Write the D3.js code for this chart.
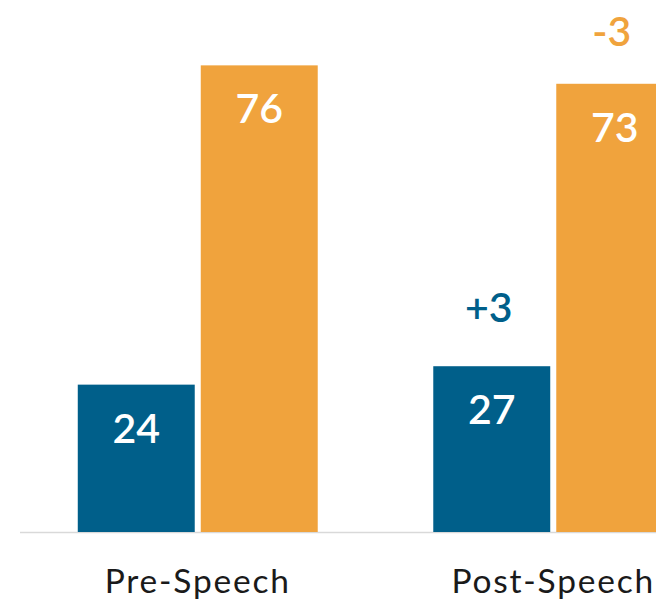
<!DOCTYPE html>
<html>
<head>
<meta charset="utf-8">
<style>
    body { margin: 0; background: #fff; }
    svg { font-family: Lato, "Noto Sans", sans-serif; }
</style>
</head>
<body>
<svg width="656" height="602"></svg>
<script src="https://d3js.org/d3.v7.min.js"></script>
<script>
    // data
    var groups = ["Pre-Speech", "Post-Speech"];
    var series = ["Favor", "Oppose"];
    var favorValues = [24, 27];
    var opposeValues = [76, 73];
    var favorChange = ["", "+3"];
    var opposeChange = ["", "-3"];
    var colors = ["#005f8a", "#f0a33d"];

    var svg = d3.select("svg"),
        baseY = 532;

    var rows = groups.map(function(g, i) {
        return {
            group: g,
            bars: [
                { key: series[0], value: favorValues[i], change: favorChange[i] },
                { key: series[1], value: opposeValues[i], change: opposeChange[i] }
            ]
        };
    });

    var x0 = d3.scaleBand()
        .domain(groups)
        .range([20, 731])
        .paddingInner(0.325)
        .paddingOuter(0.1625);

    var x1 = d3.scaleBand()
        .domain(series)
        .range([0, x0.bandwidth()])
        .paddingInner(0.049);

    var y = d3.scaleLinear()
        .domain([0, 80])
        .range([baseY, baseY - 80 * 6.14]);

    var color = d3.scaleOrdinal().domain(series).range(colors);

    // baseline
    svg.append("line")
        .attr("x1", 20).attr("x2", 656)
        .attr("y1", baseY + 0.5).attr("y2", baseY + 0.5)
        .attr("stroke", "#d9d9d9")
        .attr("stroke-width", 1.5);

    var g = svg.selectAll("g.group")
        .data(rows)
        .enter().append("g")
        .attr("class", "group")
        .attr("transform", function(d) { return "translate(" + x0(d.group) + ",0)"; });

    var bar = g.selectAll("g.bar")
        .data(function(d) { return d.bars; })
        .enter().append("g")
        .attr("class", "bar");

    bar.append("rect")
        .attr("x", function(d) { return x1(d.key); })
        .attr("width", x1.bandwidth())
        .attr("y", function(d) { return y(d.value); })
        .attr("height", function(d) { return y(0) - y(d.value); })
        .attr("fill", function(d) { return color(d.key); });

    bar.append("text")
        .attr("x", function(d) { return x1(d.key) + x1.bandwidth() / 2; })
        .attr("y", function(d) { return y(d.value) + 58; })
        .attr("text-anchor", "middle")
        .attr("fill", "#fff")
        .style("font-size", "41px")
        .style("font-weight", 600)
        .text(function(d) { return d.value; });

    // change labels sit a little closer to the orange bar
    bar.append("text")
        .attr("x", function(d) { return x1(d.key) + x1.bandwidth() / 2 - 3; })
        .attr("y", function(d) { return y(d.value) - (d.key === series[0] ? 44 : 38); })
        .attr("text-anchor", "middle")
        .attr("fill", function(d) { return color(d.key); })
        .style("font-size", "41px")
        .style("font-weight", 600)
        .text(function(d) { return d.change; });

    // category labels
    g.append("text")
        .attr("x", x0.bandwidth() / 2)
        .attr("y", 593)
        .attr("text-anchor", "middle")
        .attr("fill", "#1a1a1a")
        .style("font-size", "33.5px")
        .style("letter-spacing", "1.8px")
        .text(function(d) { return d.group; });
</script>
</body>
</html>
